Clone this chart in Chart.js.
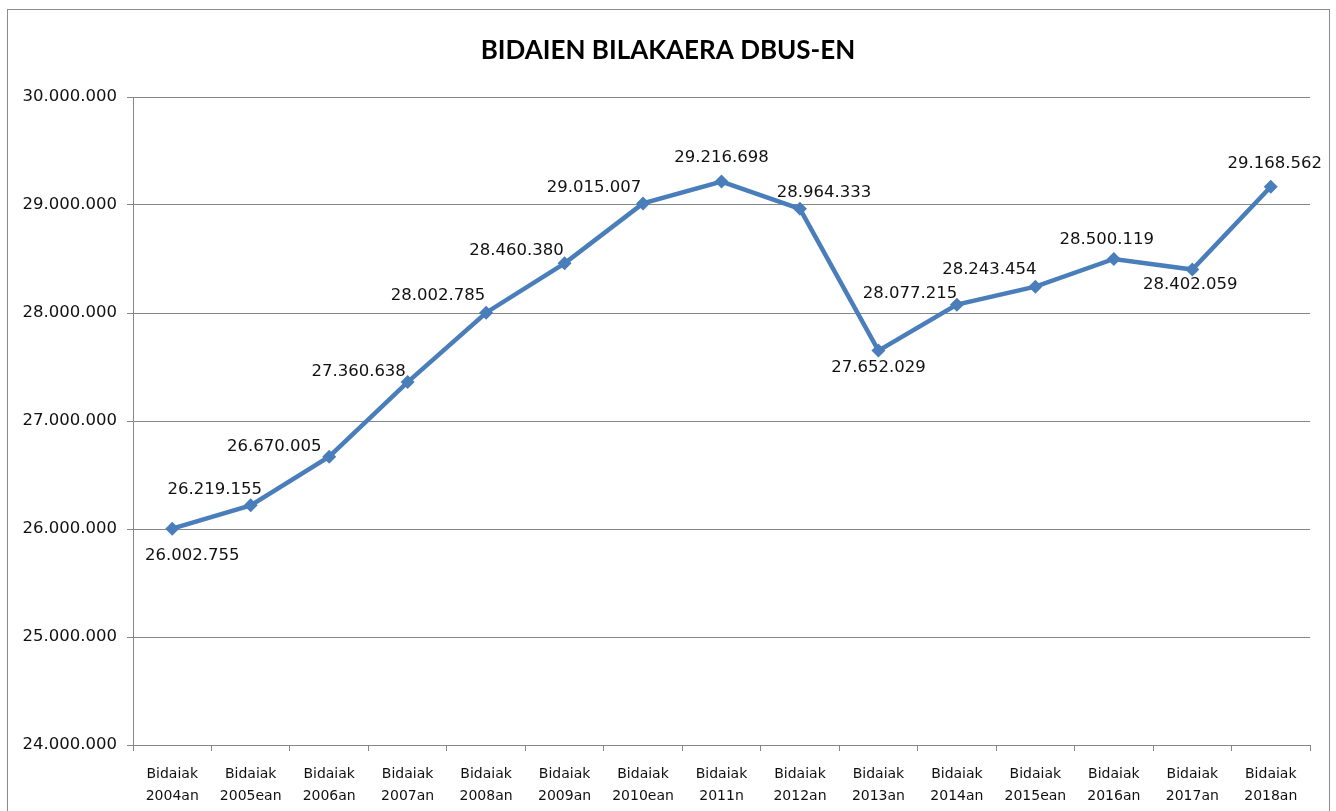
<!DOCTYPE html>
<html>
<head>
<meta charset="utf-8">
<title>BIDAIEN BILAKAERA DBUS-EN</title>
<script src="https://cdn.jsdelivr.net/npm/chart.js@4/dist/chart.umd.min.js"></script>
<style>
    html, body { margin: 0; padding: 0; background: #fff; }
    canvas { display: block; }
</style>
</head>
<body>
<canvas id="chart" width="1336" height="811"></canvas>
<script>
// data
const years = ['2004an', '2005ean', '2006an', '2007an', '2008an', '2009an', '2010ean', '2011n',
    '2012an', '2013an', '2014an', '2015ean', '2016an', '2017an', '2018an'];
const trips = [26002755, 26219155, 26670005, 27360638, 28002785, 28460380, 29015007, 29216698,
    28964333, 27652029, 28077215, 28243454, 28500119, 28402059, 29168562];
const yMin = 24000000;
const yMax = 30000000;
const yStep = 1000000;

// where each value label sits relative to its marker (px)
const labelOffsets = [
    [20, 27], [-36, -16], [-55, -10], [-49, -10], [-48, -17], [-48, -13], [-49, -16], [0, -24],
    [24, -16], [0, 17], [-47, -11], [-46, -17], [-7, -19], [-2, 15], [4, -23]
];

const blue = '#4A7EBB';
const gridGrey = '#868686';
const tickFont = 'DejaVu Sans';

function dots(n) {
    return String(Math.round(n)).replace(/\B(?=(\d{3})+(?!\d))/g, '.');
}

const frameAndTitle = {
    id: 'frameAndTitle',
    beforeDraw(chart) {
        const ctx = chart.ctx;
        ctx.save();
        ctx.fillStyle = '#fff';
        ctx.fillRect(0, 0, chart.width, chart.height);
        ctx.restore();
    },
    afterDraw(chart) {
        const ctx = chart.ctx;
        ctx.save();
        ctx.strokeStyle = '#8c8c8c';
        ctx.lineWidth = 1;
        ctx.strokeRect(7.5, 9.5, 1322, 810);
        ctx.fillStyle = '#000';
        ctx.font = 'bold 26px Lato';
        ctx.textAlign = 'center';
        ctx.textBaseline = 'middle';
        ctx.fillText('BIDAIEN BILAKAERA DBUS-EN', chart.width / 2, 51);
        ctx.restore();
    }
};

const valueLabels = {
    id: 'valueLabels',
    afterDatasetsDraw(chart) {
        const ctx = chart.ctx;
        const meta = chart.getDatasetMeta(0);
        ctx.save();
        ctx.fillStyle = '#111';
        ctx.font = '16.5px ' + tickFont;
        ctx.textAlign = 'center';
        ctx.textBaseline = 'middle';
        meta.data.forEach((pt, i) => {
            const off = labelOffsets[i] || [0, -20];
            ctx.fillText(dots(trips[i]), pt.x + off[0], pt.y + off[1]);
        });
        ctx.restore();
    }
};

new Chart(document.getElementById('chart').getContext('2d'), {
    type: 'line',
    data: {
        labels: years.map(y => ['Bidaiak', y]),
        datasets: [{
            label: 'Bidaiak',
            data: trips,
            borderColor: blue,
            backgroundColor: blue,
            borderWidth: 4.5,
            tension: 0,
            pointStyle: 'rectRot',
            pointRadius: 7,
            pointHoverRadius: 7,
            pointBorderWidth: 0,
            fill: false
        }]
    },
    options: {
        responsive: false,
        animation: false,
        events: [],
        layout: {
            padding: {left: 0, right: 26, top: 97, bottom: 0}
        },
        plugins: {
            legend: {display: false},
            title: {display: false},
            tooltip: {enabled: false}
        },
        scales: {
            x: {
                offset: true,
                grid: {
                    display: true,
                    offset: true,
                    drawOnChartArea: false,
                    drawTicks: true,
                    tickLength: 6,
                    color: gridGrey
                },
                border: {color: gridGrey},
                ticks: {
                    color: '#111',
                    padding: 12,
                    maxRotation: 0,
                    autoSkip: false,
                    font: {family: tickFont, size: 14, lineHeight: 1.57}
                },
                afterFit(scale) {
                    scale.height = 66;
                }
            },
            y: {
                min: yMin,
                max: yMax,
                grid: {
                    color: gridGrey,
                    tickLength: 6
                },
                border: {color: gridGrey},
                ticks: {
                    stepSize: yStep,
                    color: '#111',
                    padding: 10,
                    font: {family: tickFont, size: 16.5},
                    callback: v => dots(v)
                },
                afterFit(scale) {
                    scale.width = 133;
                }
            }
        }
    },
    plugins: [frameAndTitle, valueLabels]
});
</script>
</body>
</html>
